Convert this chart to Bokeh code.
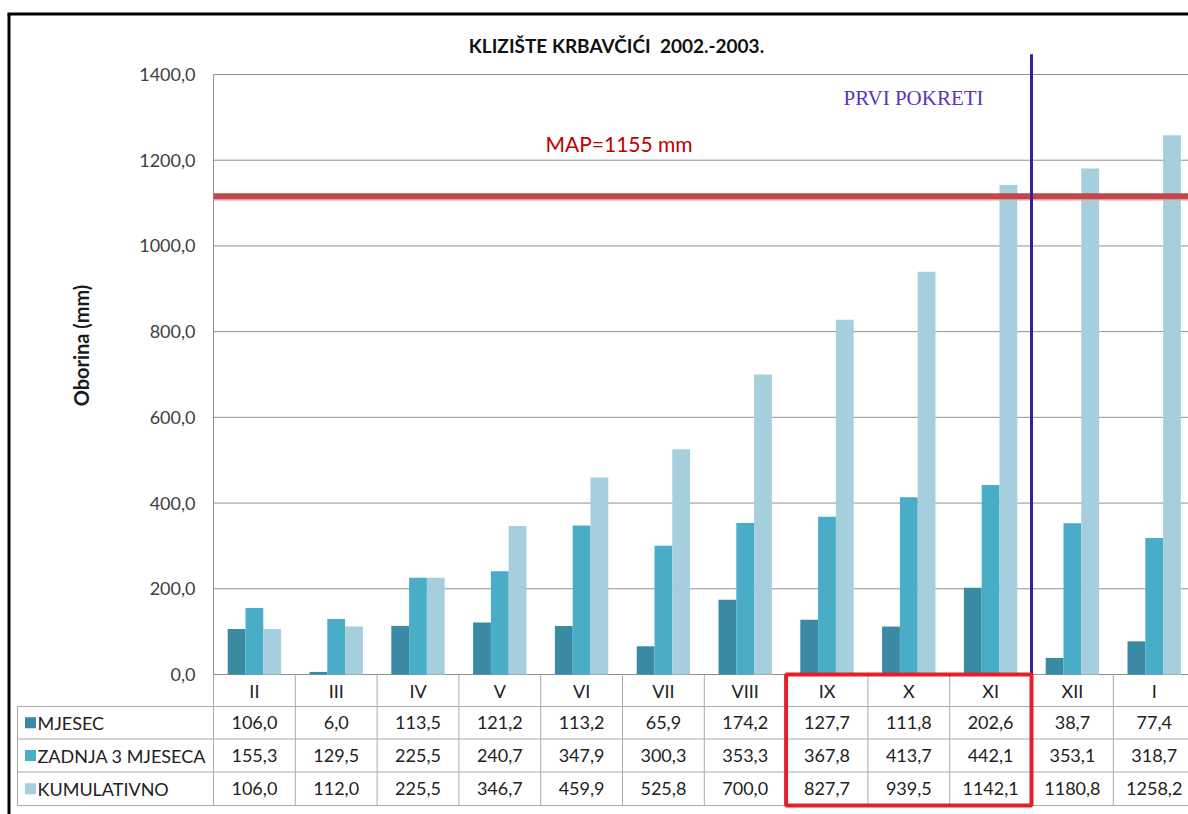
import math
from bokeh.plotting import figure
from bokeh.models import Range1d, ColumnDataSource, Span
from bokeh.embed import file_html
from bokeh.resources import INLINE
from bokeh.core.properties import value

# ---------------- data ----------------
categories = ["II", "III", "IV", "V", "VI", "VII", "VIII", "IX", "X", "XI", "XII", "I"]
mjesec = [106.0, 6.0, 113.5, 121.2, 113.2, 65.9, 174.2, 127.7, 111.8, 202.6, 38.7, 77.4]
zadnja_3_mjeseca = [155.3, 129.5, 225.5, 240.7, 347.9, 300.3, 353.3, 367.8, 413.7, 442.1, 353.1, 318.7]
kumulativno = [106.0, 112.0, 225.5, 346.7, 459.9, 525.8, 700.0, 827.7, 939.5, 1142.1, 1180.8, 1258.2]
series_names = ["MJESEC", "ZADNJA 3 MJESECA", "KUMULATIVNO"]
series_colors = ["#3a8aa4", "#4aadc7", "#a6cfdd"]
y_ticks = [0, 200, 400, 600, 800, 1000, 1200, 1400]
y_tick_labels = ["0,0", "200,0", "400,0", "600,0", "800,0", "1000,0", "1200,0", "1400,0"]
map_level = 1116          # level at which the MAP line is drawn
map_label = "MAP=1155 mm"
title_text = "KLIZIŠTE KRBAVČIĆI\u00a0 2002.-2003."
y_label = "Oborina (mm)"
event_label = "PRVI POKRETI"
event_after = "XI"
event_top = 1447
highlight = ["IX", "X", "XI"]

# ---------------- geometry ----------------
FONT = "Lato"
W, H = 1188, 814
AXIS_X, ZERO_Y = 213, 674
CAT_PX = 81.8                 # px per category
VAL_PX = 600.0 / 1400.0       # px per mm


def px2x(px):
    return (px - AXIS_X) / CAT_PX


def py2v(py):
    return (ZERO_Y - py) / VAL_PX


n = len(categories)
centers = [i + 0.5 for i in range(n)]
bw = 17.8 / CAT_PX
x_end = px2x(W)

p = figure(width=W, height=H,
           x_range=Range1d(px2x(0), x_end), y_range=Range1d(py2v(H), py2v(0)),
           output_backend="svg", toolbar_location=None,
           x_axis_location=None, y_axis_location=None,
           min_border_left=0, min_border_right=0, min_border_top=0, min_border_bottom=0)
p.extra_y_ranges = {"tbl": Range1d(start=H, end=0)}
p.outline_line_color = None
p.grid.visible = False
p.background_fill_color = "white"

GRIDC = "#909090"
# value grid lines and axis line
p.segment(x0=[0] * len(y_ticks), y0=y_ticks, x1=[x_end] * len(y_ticks), y1=y_ticks,
          line_color=GRIDC, line_width=1)
p.segment(x0=[0], y0=[0], x1=[0], y1=[y_ticks[-1]], line_color=GRIDC, line_width=1)

# y tick labels and axis title
p.text(x=[px2x(195)] * len(y_ticks), y=y_ticks, text=y_tick_labels, text_font=value(FONT),
       text_font_size="18px", text_color="#404040", text_align="right", text_baseline="middle")
p.text(x=[px2x(80)], y=[py2v(345)], text=[y_label], angle=math.pi / 2,
       text_font=value(FONT), text_font_style="bold", text_font_size="20px",
       text_color="#1a1a1a", text_align="center", text_baseline="middle")

# bars
for k, (vals, col) in enumerate(zip([mjesec, zadnja_3_mjeseca, kumulativno], series_colors)):
    src = ColumnDataSource(dict(x=[c + (k - 1) * bw for c in centers], top=vals))
    p.vbar(x="x", top="top", width=bw, bottom=0, source=src, fill_color=col, line_color=None)

# MAP line with shadow
p.segment(x0=[0], y0=[map_level - 3 / VAL_PX], x1=[x_end], y1=[map_level - 3 / VAL_PX],
          line_color="#dcb2b2", line_width=3, line_alpha=0.8)
p.segment(x0=[0], y0=[map_level], x1=[x_end], y1=[map_level], line_color="#c2474b", line_width=6)

# event line
ev_x = categories.index(event_after) + 1
p.segment(x0=[ev_x], y0=[0], x1=[ev_x], y1=[event_top], line_color="#3b1e9e", line_width=3)

# texts
p.text(x=[px2x(616)], y=[py2v(45)], text=[title_text], text_font=value(FONT),
       text_font_style="bold", text_font_size="19px", text_color="#111111",
       text_align="center", text_baseline="middle")
p.text(x=[px2x(545)], y=[py2v(143)], text=[map_label], text_font=value(FONT),
       text_font_size="21px", text_color="#c00000", text_align="left", text_baseline="middle")
p.text(x=[px2x(843)], y=[py2v(97)], text=[event_label], text_font=value("Liberation Serif"),
       text_font_size="21px", text_color="#5b34bd", text_align="left", text_baseline="middle")

# ---------------- data table ----------------
row_bounds = [706, 738.5, 771.5, 805]
header_y = 690
left_x = px2x(17)
TGRID = "#ababab"
TXT = "#222222"

p.segment(x0=list(range(n + 1)), y0=[ZERO_Y] * (n + 1), x1=list(range(n + 1)),
          y1=[row_bounds[-1]] * (n + 1), line_color=TGRID, line_width=1, y_range_name="tbl")
p.segment(x0=[left_x], y0=[row_bounds[0]], x1=[left_x], y1=[row_bounds[-1]],
          line_color=TGRID, line_width=1, y_range_name="tbl")
p.segment(x0=[left_x] * len(row_bounds), y0=row_bounds, x1=[n] * len(row_bounds),
          y1=row_bounds, line_color=TGRID, line_width=1, y_range_name="tbl")

p.text(x=centers, y=[header_y] * n, text=categories, text_font=value(FONT),
       text_font_size="18px", text_color=TXT, text_align="center", text_baseline="middle",
       y_range_name="tbl")

row_centers = [(row_bounds[i] + row_bounds[i + 1]) / 2 for i in range(3)]
for k, vals in enumerate([mjesec, zadnja_3_mjeseca, kumulativno]):
    labels = [f"{v:.1f}".replace(".", ",") for v in vals]
    p.text(x=centers, y=[row_centers[k]] * n, text=labels, text_font=value(FONT),
           text_font_size="18px", text_color=TXT, text_align="center", text_baseline="middle",
           y_range_name="tbl")

p.scatter(x=[px2x(30)] * 3, y=row_centers, marker="square", size=11,
          fill_color=series_colors, line_color=None, y_range_name="tbl")
p.text(x=[px2x(37)] * 3, y=row_centers, text=series_names, text_font=value(FONT),
       text_font_size="18px", text_color=TXT, text_align="left", text_baseline="middle",
       y_range_name="tbl")

# highlight box
h0 = categories.index(highlight[0])
h1 = categories.index(highlight[-1]) + 1
p.quad(left=[h0], right=[h1], top=[ZERO_Y], bottom=[row_bounds[-1]], fill_color=None,
       line_color="#e3202a", line_width=4, y_range_name="tbl")

# outer chart border (left and top)
p.segment(x0=[px2x(8.5), px2x(7)], y0=[13.5, 13.5], x1=[px2x(8.5), x_end], y1=[H, 13.5],
          line_color="black", line_width=3, y_range_name="tbl")

open("out.html", "w").write(file_html(p, INLINE))
